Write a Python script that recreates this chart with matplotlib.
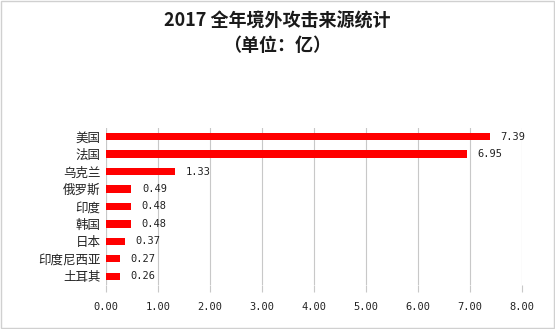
import matplotlib.pyplot as plt
from matplotlib.patches import Rectangle

plt.rcParams['font.family'] = ['Noto Sans CJK SC', 'DejaVu Sans']

countries = ["美国", "法国", "乌克兰", "俄罗斯", "印度", "韩国", "日本", "印度尼西亚", "土耳其"]
values = [7.39, 6.95, 1.33, 0.49, 0.48, 0.48, 0.37, 0.27, 0.26]
xticks = [0, 1, 2, 3, 4, 5, 6, 7, 8]

fig = plt.figure(figsize=(5.55, 3.29), dpi=100)
ax = fig.add_axes([0.191, 0.134, 0.7495, 0.477])

ax.barh(range(len(countries)), values, height=0.42, color='#FF0000', zorder=3)
for i, v in enumerate(values):
    ax.annotate(f"{v:.2f}", (v, i), xytext=(7.5, 0), textcoords='offset points',
                va='center', ha='left', fontsize=7.5, family='DejaVu Sans Mono', color='#222222')

ax.set_xlim(0, 8)
ax.set_ylim(8.5, -0.5)
ax.set_xticks(xticks)
ax.set_xticklabels([f"{t:.2f}" for t in xticks], family='DejaVu Sans Mono', fontsize=7.5, color='#222222')
ax.set_yticks(range(len(countries)))
ax.set_yticklabels(countries, fontsize=9, color='#222222')
ax.grid(axis='x', color='#C8C8C8', linewidth=0.8, zorder=0)
for s in ax.spines.values():
    s.set_visible(False)
ax.axvline(0, color='#C8C8C8', linewidth=0.8, zorder=1)
ax.tick_params(axis='y', length=0, pad=4)
ax.tick_params(axis='x', length=5, color='#C8C8C8', pad=7, direction='out')

fig.text(0.5, 0.935, "2017 全年境外攻击来源统计", ha='center', va='center',
         fontsize=13, fontweight='bold', color='#1a1a1a')
fig.text(0.5, 0.863, "（单位：亿）", ha='center', va='center',
         fontsize=13, fontweight='bold', color='#1a1a1a')

fig.patches.append(Rectangle((0.002, 0.003), 0.996, 0.994, transform=fig.transFigure,
                             fill=False, edgecolor='#D0D0D0', linewidth=1))

fig.savefig("out.png", dpi=100)
